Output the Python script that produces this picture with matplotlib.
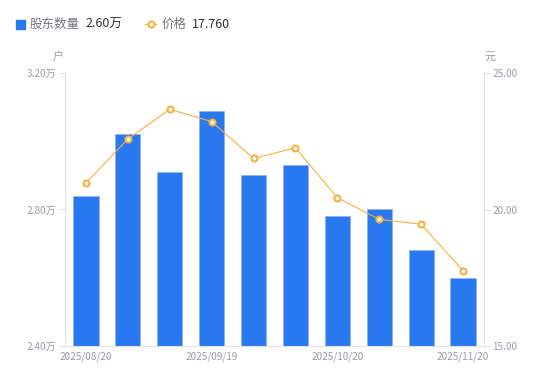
import numpy as np
import matplotlib
matplotlib.use("Agg")
import matplotlib.pyplot as plt
from matplotlib.lines import Line2D

plt.rcParams['font.family'] = ['Noto Sans CJK SC', 'DejaVu Sans']

# data
dates = ['2025/08/20', '2025/08/31', '2025/09/10', '2025/09/19', '2025/09/30',
         '2025/10/10', '2025/10/20', '2025/10/31', '2025/11/10', '2025/11/20']
holders = [2.84, 3.02, 2.91, 3.09, 2.90, 2.93, 2.78, 2.80, 2.68, 2.60]   # 万户
price = [20.97, 22.58, 23.67, 23.22, 21.87, 22.26, 20.43, 19.64, 19.46, 17.76]
shown_ticks = [0, 3, 6, 9]
left_ticks = [2.40, 2.80, 3.20]
right_ticks = [15.00, 20.00, 25.00]

blue = '#2878f0'
orange = '#f6b23a'
grey_txt = '#9b9ba8'
axis_col = '#e3e3e8'

fig = plt.figure(figsize=(5.5, 3.81), dpi=100)
ax = fig.add_axes([65 / 550, 1 - 346 / 381, (484 - 65) / 550, (346 - 73) / 381])
ax2 = ax.twinx()

x = np.arange(len(dates))
ax.bar(x, holders, width=0.6, color=blue, edgecolor='#8db6f7', linewidth=0.6, zorder=2)
ax.set_ylim(2.40, 3.20)
ax.set_xlim(-0.5, len(dates) - 0.5)
ax.set_yticks(left_ticks)
ax.set_yticklabels([f'{v:.2f}万' for v in left_ticks])
ax.set_xticks(shown_ticks)
ax.set_xticklabels([dates[i] for i in shown_ticks])

ax2.plot(x, price, color=orange, linewidth=0.8, marker='o', markersize=4.3,
         markerfacecolor='white', markeredgecolor=orange, markeredgewidth=1.5, zorder=3)
ax2.set_ylim(15, 25)
ax2.set_yticks(right_ticks)
ax2.set_yticklabels([f'{v:.2f}' for v in right_ticks])

for a in (ax, ax2):
    for s in a.spines.values():
        s.set_visible(False)
    a.tick_params(colors=axis_col, labelcolor=grey_txt, labelsize=7.2, length=4, width=0.8)
ax.spines['left'].set_visible(True)
ax.spines['left'].set_color(axis_col)
ax.spines['bottom'].set_visible(True)
ax.spines['bottom'].set_color(axis_col)
ax2.spines['right'].set_visible(True)
ax2.spines['right'].set_color(axis_col)
ax.tick_params(axis='x', length=0, pad=4)
ax.tick_params(axis='y', pad=2)
ax2.tick_params(axis='y', pad=2)

# unit labels
fig.text(58 / 550, 1 - 57 / 381, '户', color=grey_txt, fontsize=8, ha='center', va='center')
fig.text(490 / 550, 1 - 57 / 381, '元', color=grey_txt, fontsize=8, ha='center', va='center')

# legend
ly = 1 - 24 / 381
fig.patches.append(plt.Rectangle((16 / 550, 1 - 28.5 / 381), 9 / 550, 9 / 381,
                                 transform=fig.transFigure, color=blue, figure=fig))
fig.text(30 / 550, ly, '股东数量', color='#777780', fontsize=9, va='center')
fig.text(85 / 550, ly, f'{holders[-1]:.2f}万', color='#333333', fontsize=9, va='center')
fig.lines.append(Line2D([145 / 550, 156 / 550], [ly, ly], transform=fig.transFigure,
                        color=orange, linewidth=1))
fig.lines.append(Line2D([150.5 / 550], [ly], transform=fig.transFigure, color=orange,
                        marker='o', markersize=4.3, markerfacecolor='white',
                        markeredgewidth=1.5, linestyle='none'))
fig.text(162 / 550, ly, '价格', color='#777780', fontsize=9, va='center')
fig.text(192 / 550, ly, f'{price[-1]:.3f}', color='#333333', fontsize=9, va='center')

fig.savefig('out.png', dpi=100)
